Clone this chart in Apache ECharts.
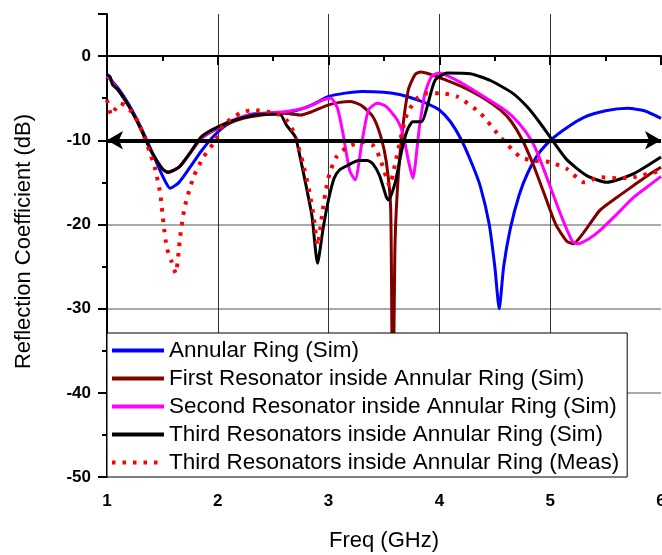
<!DOCTYPE html>
<html>
<head>
    <meta charset="UTF-8">
    <title>Reflection Coefficient</title>
    <script src="https://cdn.jsdelivr.net/npm/echarts@6/dist/echarts.min.js"></script>
</head>
<body style="margin:0;">
    <div id="main" style="width: 662px;height:555px;"></div>
    <script type="text/javascript">
        // 曲线名称
        var names = [
            'Annular Ring (Sim)',
            'First Resonator inside Annular Ring (Sim)',
            'Second Resonator inside Annular Ring (Sim)',
            'Third Resonators inside Annular Ring (Sim)',
            'Third Resonators inside Annular Ring (Meas)'
        ];

        // Annular Ring (Sim)
        var freqRing = [1.0, 1.1, 1.2, 1.3, 1.4, 1.5, 1.57, 1.65, 1.75, 1.85, 1.97, 2.1, 2.3, 2.5, 2.7, 2.85, 3.0, 3.15, 3.3, 3.5, 3.65, 3.8, 3.9, 4.0, 4.1, 4.2, 4.3, 4.37, 4.45, 4.5, 4.54, 4.58, 4.64, 4.72, 4.8, 4.9, 5.02, 5.15, 5.3, 5.5, 5.7, 5.85, 6.0];
        var s11Ring = [-2.3, -3.8, -5.8, -8.3, -11.2, -14.2, -15.7, -15.0, -13.2, -11.3, -9.4, -8.0, -6.9, -6.8, -6.5, -5.8, -4.8, -4.4, -4.2, -4.3, -4.6, -5.2, -5.7, -6.4, -7.8, -10.0, -13.0, -15.5, -20.0, -25.0, -30.0, -25.0, -20.5, -16.5, -13.8, -11.5, -9.8, -8.5, -7.3, -6.5, -6.2, -6.5, -7.4];

        // First Resonator (Sim)
        var freqFirst = [1.0, 1.1, 1.2, 1.3, 1.4, 1.5, 1.55, 1.65, 1.75, 1.85, 2.0, 2.2, 2.4, 2.6, 2.75, 2.85, 3.0, 3.1, 3.2, 3.3, 3.4, 3.47, 3.52, 3.56, 3.575, 3.585, 3.6, 3.63, 3.67, 3.72, 3.78, 3.83, 3.95, 4.05, 4.2, 4.4, 4.55, 4.65, 4.75, 4.85, 4.95, 5.05, 5.15, 5.21, 5.3, 5.45, 5.6, 5.75, 5.9, 6.0];
        var s11First = [-2.3, -4.0, -6.0, -8.5, -11.3, -13.4, -13.8, -13.2, -11.5, -9.8, -8.6, -7.5, -7.0, -6.8, -7.0, -6.6, -5.8, -5.5, -5.4, -5.9, -7.2, -9.5, -12.5, -18.0, -36.0, -36.0, -22.0, -14.0, -8.4, -4.0, -2.2, -1.9, -2.3, -2.8, -3.6, -5.0, -6.4, -7.8, -10.0, -13.0, -16.5, -20.0, -22.0, -22.3, -21.0, -18.3, -16.8, -15.4, -14.0, -13.2];

        // Second Resonator (Sim)
        var freqSecond = [1.0, 1.1, 1.2, 1.3, 1.4, 1.5, 1.55, 1.65, 1.75, 1.85, 2.0, 2.2, 2.4, 2.6, 2.8, 2.95, 3.02, 3.08, 3.13, 3.19, 3.24, 3.3, 3.36, 3.44, 3.52, 3.62, 3.67, 3.72, 3.76, 3.82, 3.87, 3.93, 4.0, 4.2, 4.4, 4.6, 4.72, 4.83, 4.9, 5.0, 5.1, 5.2, 5.25, 5.35, 5.45, 5.6, 5.75, 5.9, 6.0];
        var s11Second = [-2.3, -4.0, -6.0, -8.5, -11.3, -13.4, -13.8, -13.2, -11.5, -9.8, -8.5, -7.3, -6.8, -6.6, -6.1, -5.2, -5.0, -6.2, -9.2, -13.6, -14.7, -10.3, -6.4, -5.6, -6.0, -7.6, -9.2, -12.4, -14.5, -8.4, -4.4, -2.4, -2.0, -3.2, -4.8, -6.5, -8.0, -10.0, -12.0, -15.5, -19.0, -22.0, -22.3, -21.7, -20.7, -18.8, -16.8, -15.3, -14.3];

        // Third Resonators (Sim)
        var freqThird = [1.0, 1.03, 1.05, 1.1, 1.2, 1.3, 1.4, 1.5, 1.55, 1.65, 1.75, 1.85, 2.0, 2.2, 2.4, 2.56, 2.62, 2.7, 2.73, 2.8, 2.85, 2.9, 2.95, 3.0, 3.05, 3.1, 3.17, 3.27, 3.35, 3.4, 3.46, 3.52, 3.54, 3.6, 3.66, 3.71, 3.76, 3.84, 3.89, 3.96, 4.07, 4.28, 4.46, 4.66, 4.79, 4.9, 5.02, 5.15, 5.33, 5.51, 5.75, 6.0];
        var s11Third = [-2.2, -2.5, -3.4, -4.0, -6.0, -8.5, -11.3, -13.4, -13.8, -13.2, -11.5, -9.6, -8.4, -7.4, -6.9, -6.9, -8.2, -9.6, -11.2, -15.6, -19.0, -24.6, -20.5, -17.0, -14.5, -13.5, -13.0, -12.4, -12.4, -12.8, -14.2, -16.7, -17.1, -15.1, -11.2, -8.8, -7.8, -7.8, -6.0, -2.9, -2.0, -2.1, -2.9, -4.4, -6.0, -7.8, -10.0, -12.3, -14.2, -15.0, -14.0, -12.0];

        // Third Resonators (Meas)
        var freqMeas = [1.0, 1.04, 1.08, 1.12, 1.17, 1.22, 1.28, 1.33, 1.38, 1.43, 1.48, 1.51, 1.54, 1.58, 1.62, 1.66, 1.7, 1.78, 1.87, 1.97, 2.05, 2.2, 2.32, 2.45, 2.56, 2.62, 2.67, 2.71, 2.77, 2.83, 2.87, 2.9, 2.94, 2.97, 3.01, 3.07, 3.17, 3.31, 3.4, 3.46, 3.52, 3.55, 3.6, 3.66, 3.71, 3.8, 3.89, 4.0, 4.16, 4.37, 4.55, 4.73, 4.85, 5.0, 5.15, 5.31, 5.45, 5.6, 5.75, 6.0];
        var s11Meas = [-5.2, -7.0, -6.2, -5.6, -5.9, -6.6, -7.8, -9.4, -11.2, -13.2, -16.3, -19.9, -22.8, -24.3, -25.8, -21.5, -18.0, -14.4, -12.0, -10.2, -8.2, -6.8, -6.4, -6.6, -7.0, -7.6, -8.6, -10.0, -12.8, -16.3, -19.5, -22.5, -19.0, -16.3, -13.9, -12.0, -10.8, -10.2, -10.6, -12.0, -14.4, -15.4, -12.8, -9.2, -6.8, -5.0, -4.4, -4.4, -4.8, -6.8, -9.6, -12.0, -12.4, -12.6, -13.4, -15.0, -14.4, -14.5, -14.4, -13.6];

        // -10 dB 参考箭头
        var refLevel = -10;
        var refFrom = 1;
        var refTo = 6;

        var colors = ['#0000ff', '#800000', '#ff00ff', '#000000', '#ff0000'];

        function pairs(xs, ys) {
            return xs.map(function (x, i) { return [x, ys[i]]; });
        }

        var myChart = echarts.init(document.getElementById('main'));
        var font = 'Liberation Sans, Arial, sans-serif';

        var curves = [
            pairs(freqRing, s11Ring),
            pairs(freqFirst, s11First),
            pairs(freqSecond, s11Second),
            pairs(freqThird, s11Third),
            pairs(freqMeas, s11Meas)
        ];

        var series = curves.map(function (d, i) {
            var meas = i === 4;
            return {
                name: names[i],
                type: 'line',
                data: d,
                symbol: 'none',
                smooth: 0.2,
                clip: true,
                lineStyle: {
                    color: colors[i],
                    width: meas ? 4 : 3,
                    type: meas ? [3.5, 7] : 'solid'
                },
                itemStyle: { color: colors[i] }
            };
        });

        series.push({
            name: 'ref',
            type: 'line',
            data: [],
            markLine: {
                silent: true,
                symbol: ['arrow', 'arrow'],
                symbolSize: [14, 16],
                label: { show: false },
                lineStyle: { color: '#000', width: 4, type: 'solid' },
                data: [[{ coord: [refFrom, refLevel] }, { coord: [refTo, refLevel] }]]
            }
        });

        var option = {
            animation: false,
            backgroundColor: '#fff',
            textStyle: { fontFamily: font },
            grid: { left: 107, right: 1, top: 14, bottom: 78, outerBoundsMode: 'none', containLabel: false },
            legend: {
                data: names,
                orient: 'vertical',
                left: 107,
                top: 333,
                z: 10,
                backgroundColor: '#fff',
                borderColor: '#000',
                borderWidth: 1,
                padding: [5, 8, 2, 3],
                itemGap: 3,
                itemWidth: 52,
                itemHeight: 14,
                itemStyle: { opacity: 0 },
                lineStyle: { width: 4 },
                textStyle: { fontSize: 22.5, lineHeight: 25, color: '#000', fontFamily: font }
            },
            xAxis: {
                type: 'value',
                min: 1,
                max: 6,
                interval: 1,
                name: 'Freq (GHz)',
                nameLocation: 'middle',
                nameGap: 53,
                nameTextStyle: { fontSize: 22, color: '#000', fontFamily: font },
                axisLine: { lineStyle: { color: '#000', width: 2 } },
                axisTick: { length: 9, lineStyle: { color: '#000', width: 2 } },
                minorTick: { show: true, splitNumber: 2, length: 5, lineStyle: { color: '#000', width: 2 } },
                axisLabel: { fontSize: 17, fontWeight: 'bold', color: '#000', margin: 16, fontFamily: font },
                splitLine: { show: true, showMaxLine: false, lineStyle: { color: '#333', width: 1 } }
            },
            yAxis: {
                type: 'value',
                min: -50,
                max: 5,
                interval: 10,
                name: 'Reflection Coefficient (dB)',
                nameLocation: 'middle',
                nameGap: 72,
                nameTextStyle: { fontSize: 22, color: '#000', fontFamily: font, padding: [0, 0, 0, 8] },
                axisLine: { lineStyle: { color: '#000', width: 2 } },
                axisTick: { length: 9, lineStyle: { color: '#000', width: 2 } },
                minorTick: { show: true, splitNumber: 2, length: 5, lineStyle: { color: '#000', width: 2 } },
                axisLabel: { fontSize: 17, fontWeight: 'bold', color: '#000', margin: 16, showMaxLabel: false, fontFamily: font },
                splitLine: { show: true, showMaxLine: false, showMinLine: false, lineStyle: { color: '#8c8c8c', width: 1.5 } }
            },
            series: series
        };

        myChart.setOption(option);
    </script>
</body>
</html>
